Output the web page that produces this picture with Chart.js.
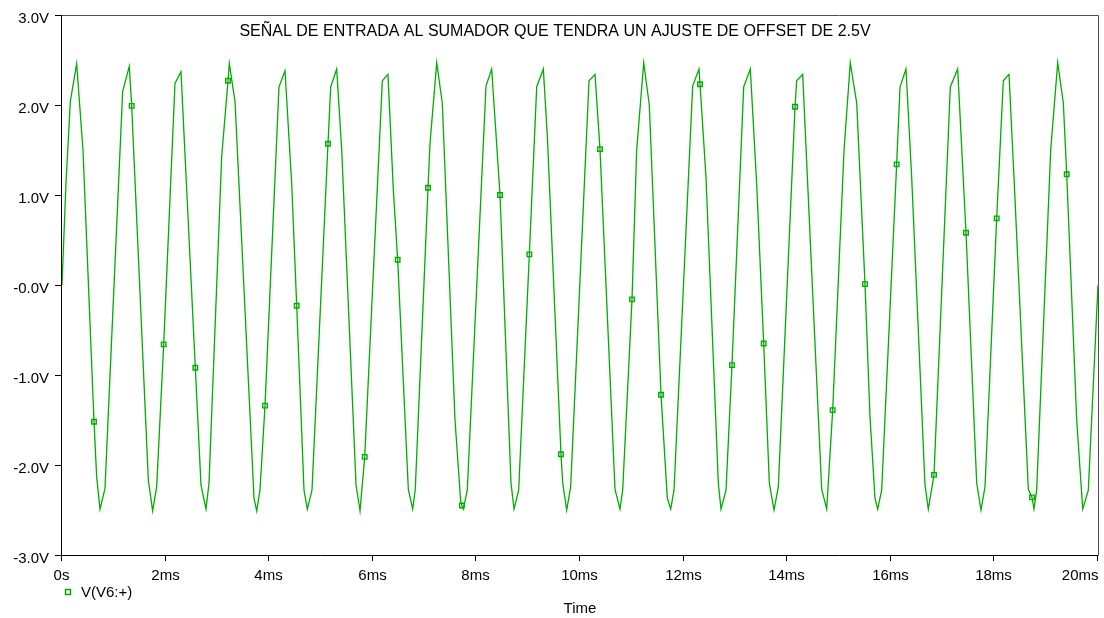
<!DOCTYPE html>
<html>
<head>
<meta charset="utf-8">
<script src="https://cdn.jsdelivr.net/npm/chart.js@4/dist/chart.umd.min.js"></script>
<style>
  html, body { margin: 0; padding: 0; background: #fff; }
  #wrap { width: 1104px; height: 618px; }
</style>
</head>
<body>
<div id="wrap"><canvas id="scope"></canvas></div>
<script>
/* V(V6:+) transient trace (time in ms, volts) */
const timeMs = [
  0.000, 0.077, 0.161, 0.283, 0.405, 0.618, 0.669, 0.734, 0.830,
  1.171, 1.299, 1.345, 1.667, 1.750, 1.828, 1.963,
  2.181, 2.297, 2.574, 2.683, 2.780, 2.838,
  3.083, 3.205, 3.230, 3.340, 3.707, 3.759, 3.822, 3.919,
  4.189, 4.305, 4.434, 4.531, 4.672, 4.736, 4.826,
  5.135, 5.187, 5.303, 5.400, 5.676, 5.753, 5.844,
  6.184, 6.293, 6.396, 6.480, 6.686, 6.770, 6.820,
  7.066, 7.104, 7.234, 7.342, 7.587, 7.696, 7.720, 7.748, 7.824,
  8.185, 8.295, 8.456, 8.668, 8.726, 8.816,
  9.022, 9.164, 9.292, 9.370, 9.633, 9.666, 9.743, 9.820,
  10.174, 10.290, 10.386, 10.676, 10.772, 10.824,
  11.004, 11.094, 11.230, 11.338, 11.564, 11.686, 11.751, 11.815,
  12.175, 12.297, 12.317, 12.432, 12.670, 12.722, 12.819, 12.934,
  13.160, 13.288, 13.410, 13.546, 13.655, 13.745, 13.829,
  14.151, 14.183, 14.299, 14.410, 14.666, 14.763, 14.878,
  15.097, 15.218, 15.342, 15.502, 15.598, 15.695, 15.747, 15.824,
  16.113, 16.178, 16.293, 16.403, 16.660, 16.724, 16.834,
  17.149, 17.291, 17.452, 17.658, 17.741, 17.819,
  18.044, 18.172, 18.282, 18.378, 18.655, 18.726, 18.764, 18.816,
  19.087, 19.222, 19.331, 19.396, 19.589, 19.705, 19.813, 20.000
];
const volts = [
  0.00, 1.13, 2.04, 2.46, 1.50, -1.52, -2.13, -2.49, -2.26,
  2.15, 2.43, 1.99, -2.17, -2.51, -2.24, -0.66,
  2.24, 2.37, -0.92, -2.22, -2.49, -2.20,
  1.43, 2.27, 2.46, 2.04, -2.37, -2.51, -2.28, -1.34,
  2.20, 2.38, 1.13, -0.23, -2.28, -2.49, -2.28,
  1.57, 2.20, 2.40, 1.50, -2.22, -2.51, -1.91,
  2.27, 2.34, 1.06, 0.28, -2.27, -2.49, -2.27,
  1.08, 1.57, 2.47, 2.02, -1.50, -2.40, -2.45, -2.49, -2.28,
  2.21, 2.40, 1.00, -2.20, -2.49, -2.28,
  0.34, 2.20, 2.40, 1.65, -1.88, -2.20, -2.50, -2.24,
  2.27, 2.34, 1.51, -2.27, -2.49, -2.28,
  -0.16, 1.50, 2.47, 2.00, -1.22, -2.37, -2.49, -2.28,
  2.21, 2.40, 2.23, 1.20, -2.20, -2.49, -2.28, -0.89,
  2.20, 2.40, 1.13, -0.65, -2.20, -2.50, -2.24,
  1.98, 2.27, 2.34, 0.94, -2.27, -2.49, -1.39,
  1.50, 2.47, 2.02, 0.01, -1.46, -2.37, -2.49, -2.28,
  1.34, 2.20, 2.40, 1.20, -2.22, -2.49, -2.11,
  2.20, 2.40, 0.58, -2.20, -2.50, -2.24,
  0.74, 2.27, 2.34, 1.20, -2.27, -2.36, -2.49, -2.28,
  1.50, 2.47, 2.02, 1.23, -1.50, -2.49, -2.28, 0.00
];

/* square symbols PSpice puts on the trace */
const markerT = [0.618, 1.345, 1.963, 2.574, 3.205, 3.919, 4.531, 5.135, 5.844, 6.480,
                 7.066, 7.720, 8.456, 9.022, 9.633, 10.386, 11.004, 11.564, 12.317, 12.934,
                 13.546, 14.151, 14.878, 15.502, 16.113, 16.834, 17.452, 18.044, 18.726, 19.396];
const markerV = [-1.52, 1.99, -0.66, -0.92, 2.27, -1.34, -0.23, 1.57, -1.91, 0.28,
                 1.08, -2.45, 1.00, 0.34, -1.88, 1.51, -0.16, -1.22, 2.23, -0.89,
                 -0.65, 1.98, -1.39, 0.01, 1.34, -2.11, 0.58, 0.74, -2.36, 1.23];

const xTickVals = [0, 2, 4, 6, 8, 10, 12, 14, 16, 18, 20];
const xTickLabels = ["0s", "2ms", "4ms", "6ms", "8ms", "10ms", "12ms", "14ms", "16ms", "18ms", "20ms"];
const yTickVals = [3, 2, 1, 0, -1, -2, -3];
const yTickLabels = ["3.0V", "2.0V", "1.0V", "-0.0V", "-1.0V", "-2.0V", "-3.0V"];

const TITLE = "SEÑAL DE ENTRADA AL SUMADOR QUE TENDRA UN AJUSTE DE OFFSET DE 2.5V";
const TRACE_NAME = "V(V6:+)";
const X_NAME = "Time";
const GREEN = "#00ad00";
const FONT = "15px 'Liberation Sans', Arial, sans-serif";
const TITLE_FONT = "16px 'Liberation Sans', Arial, sans-serif";

/* PSpice-style frame, ticks, labels, title and legend */
const ProbeFrame = {
  id: "probeFrame",
  afterDatasetsDraw(chart) {
    const { ctx, chartArea: a } = chart;
    const xs = chart.scales.x, ys = chart.scales.y;
    ctx.save();
    // box: top/right grey, left/bottom black
    ctx.lineWidth = 1;
    ctx.strokeStyle = "#505050";
    ctx.beginPath();
    ctx.moveTo(a.left, a.top + 0.5); ctx.lineTo(a.right + 0.5, a.top + 0.5);
    ctx.lineTo(a.right + 0.5, a.bottom);
    ctx.stroke();
    ctx.strokeStyle = "#000";
    ctx.beginPath();
    ctx.moveTo(a.left - 0.5, a.top); ctx.lineTo(a.left - 0.5, a.bottom + 0.5);
    ctx.lineTo(a.right + 0.5, a.bottom + 0.5);
    ctx.stroke();

    ctx.font = FONT;
    ctx.fillStyle = "#000";
    // y ticks
    ctx.textAlign = "right";
    ctx.textBaseline = "middle";
    yTickVals.forEach((v, i) => {
      const y = Math.round(ys.getPixelForValue(v)) + 0.5;
      ctx.beginPath(); ctx.moveTo(a.left - 7, y); ctx.lineTo(a.left, y); ctx.stroke();
      ctx.fillText(yTickLabels[i], a.left - 13, y + 3);
    });
    // x ticks
    ctx.textBaseline = "top";
    xTickVals.forEach((v, i) => {
      const x = Math.round(xs.getPixelForValue(v)) - 0.5;
      ctx.beginPath(); ctx.moveTo(x, a.bottom); ctx.lineTo(x, a.bottom + 6); ctx.stroke();
      const last = i === xTickVals.length - 1;
      ctx.textAlign = last ? "right" : "center";
      ctx.fillText(xTickLabels[i], last ? x + 1 : x, a.bottom + 13);
    });
    // legend
    ctx.strokeStyle = GREEN;
    ctx.lineWidth = 1.5;
    ctx.strokeRect(65.5, 589.5, 5, 5);
    ctx.textAlign = "left";
    ctx.textBaseline = "middle";
    ctx.fillText(TRACE_NAME, 81, 593);
    // axis name
    ctx.textAlign = "center";
    ctx.fillText(X_NAME, (a.left + a.right) / 2, 609);
    // title inside the plot
    ctx.font = TITLE_FONT;
    ctx.fillText(TITLE, 555, a.top + 17);
    ctx.restore();
  }
};

new Chart(document.getElementById("scope"), {
  type: "scatter",
  data: {
    datasets: [
      { label: TRACE_NAME, data: timeMs.map((t, i) => ({ x: t, y: volts[i] })),
        showLine: true, borderColor: GREEN, borderWidth: 1.3, pointRadius: 0, tension: 0 },
      { label: "marks", data: markerT.map((t, i) => ({ x: t, y: markerV[i] })),
        showLine: false, pointStyle: "rect", pointRadius: 3.2, borderColor: GREEN,
        borderWidth: 1.4, backgroundColor: "rgba(0,0,0,0)" }
    ]
  },
  options: {
    responsive: true, maintainAspectRatio: false, animation: false,
    layout: { padding: { left: 62, right: 6, top: 15, bottom: 63 } },
    plugins: { legend: { display: false }, tooltip: { enabled: false } },
    scales: {
      x: { type: "linear", min: 0, max: 20, display: false },
      y: { type: "linear", min: -3, max: 3, display: false }
    }
  },
  plugins: [ProbeFrame]
});
</script>
</body>
</html>
